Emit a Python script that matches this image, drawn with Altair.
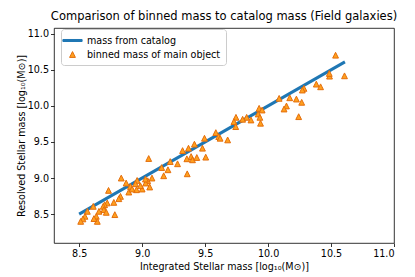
import altair as alt
import pandas as pd

# binned mass of main object (x = integrated, y = resolved)
bin_x = [10.536, 10.488, 10.607, 10.486, 10.383, 10.417, 10.285, 10.272, 10.088, 10.172,
         10.225, 10.267, 10.146, 10.127, 10.243, 9.929, 9.953, 9.921, 9.935, 9.940,
         9.830, 9.864, 9.798, 9.745, 9.729, 9.743, 9.585, 9.608, 9.619, 9.679,
         9.495, 9.479, 9.415, 9.368, 9.321, 9.389, 9.355, 9.400, 9.434, 9.505,
         9.281, 9.358, 9.223, 9.205, 9.171, 9.155, 9.052, 9.078, 9.044, 9.028,
         9.060, 9.000, 8.960, 8.947, 8.907, 8.873, 8.834, 8.955, 8.894, 8.828,
         8.815, 8.775, 8.733, 8.723, 8.702, 8.691, 8.696, 8.715, 8.783, 8.657,
         8.636, 8.644, 8.617, 8.612, 8.565, 8.546, 8.530, 8.512, 8.986, 9.026, 8.920]
bin_y = [10.703, 10.413, 10.417, 10.450, 10.302, 10.265, 10.243, 10.220, 10.105, 10.113,
         10.095, 10.050, 9.999, 9.957, 9.851, 9.967, 9.943, 9.888, 9.842, 9.760,
         9.842, 9.805, 9.815, 9.842, 9.782, 9.713, 9.630, 9.575, 9.552, 9.529,
         9.552, 9.414, 9.470, 9.414, 9.381, 9.298, 9.267, 9.253, 9.285, 9.290,
         9.198, 9.059, 9.229, 9.115, 9.032, 9.146, 9.271, 9.000, 8.963, 8.931,
         8.876, 8.848, 8.967, 8.921, 8.884, 8.931, 9.000, 8.838, 8.806, 8.746,
         8.714, 8.663, 8.829, 8.655, 8.631, 8.608, 8.562, 8.525, 8.493, 8.539,
         8.470, 8.400, 8.438, 8.608, 8.539, 8.470, 8.434, 8.400, 8.894, 8.986, 8.848]

# mass from catalog (line y = x)
cat_x = [8.51, 10.60]

series_names = ["mass from catalog", "binned mass of main object"]
x_ticks = [8.5, 9.0, 9.5, 10.0, 10.5, 11.0]
y_ticks = [8.5, 9.0, 9.5, 10.0, 10.5, 11.0]

points = pd.DataFrame({"x": bin_x, "y": bin_y, "series": series_names[1]})
line = pd.DataFrame({"x": cat_x, "y": cat_x, "series": series_names[0]})

FONT = "DejaVu Sans"
xscale = alt.Scale(domain=[8.3, 11.0], nice=False, zero=False)
yscale = alt.Scale(domain=[8.1, 11.08], nice=False, zero=False)

xaxis = alt.Axis(values=x_ticks, format=".1f",
                 title="Integrated Stellar mass [log₁₀(M⊙)]")
yaxis = alt.Axis(values=y_ticks, format=".1f",
                 title="Resolved Stellar mass [log₁₀(M⊙)]")

line_path = "M-1.6,-0.167L1.6,-0.167L1.6,0.167L-1.6,0.167Z"
tri_path = "M0,-0.483L0.483,0.483L-0.483,0.483Z"

leg = alt.Legend(title=None, orient="none", legendX=7, legendY=1, padding=5,
                 fillColor="rgba(255,255,255,0.8)", strokeColor="#cccccc",
                 cornerRadius=3, labelFont=FONT, labelFontSize=9.6,
                 labelColor="black", labelOffset=8, symbolSize=144,
                 symbolStrokeWidth=1, symbolOpacity=1, rowPadding=2,
                 labelLimit=200)

line_layer = alt.Chart(line).mark_line(
    strokeWidth=3, strokeCap="square", color="#1f77b4"
).encode(
    x=alt.X("x:Q", scale=xscale, axis=xaxis),
    y=alt.Y("y:Q", scale=yscale, axis=yaxis),
)

pt_layer = alt.Chart(points).mark_point(
    filled=True, size=144, strokeWidth=1, opacity=1
).encode(
    x=alt.X("x:Q", scale=xscale, axis=xaxis),
    y=alt.Y("y:Q", scale=yscale, axis=yaxis),
    fill=alt.Fill("series:N", scale=alt.Scale(domain=series_names, range=["#1f77b4", "#ffa01e"]), legend=leg),
    stroke=alt.Stroke("series:N", scale=alt.Scale(domain=series_names, range=["#1f77b4", "#e46e0c"]), legend=leg),
    shape=alt.Shape("series:N", scale=alt.Scale(domain=series_names, range=[line_path, tri_path]), legend=leg),
)

chart = alt.layer(line_layer, pt_layer).properties(
    width=340, height=215,
    autosize=alt.AutoSizeParams(type="none"),
    padding={"left": 46, "top": 20, "right": 10, "bottom": 30},
    title=alt.Title("Comparison of binned mass to catalog mass (Field galaxies)",
                    font=FONT, fontSize=11.5, fontWeight="normal", color="black",
                    anchor="middle", offset=6),
).configure_view(
    stroke="black", strokeWidth=0.8
).configure_axis(
    domain=False, grid=False, tickColor="black", tickSize=3.5, tickWidth=0.8,
    labelFont=FONT, labelFontSize=9.6, labelColor="black", labelPadding=2,
    titleFont=FONT, titleFontSize=9.6, titleFontWeight="normal", titleColor="black",
    titlePadding=3,
).configure_axisY(titlePadding=1)

chart.save("out.html", embed_options={"renderer": "svg", "actions": False})
